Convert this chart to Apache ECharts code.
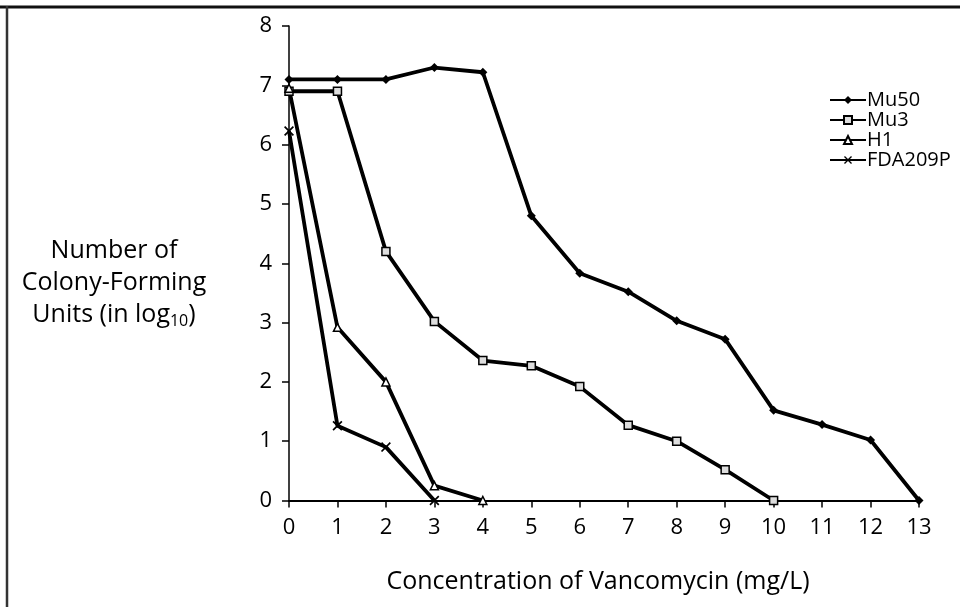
<!DOCTYPE html>
<html>
<head>
<meta charset="utf-8">
<script src="https://cdn.jsdelivr.net/npm/echarts@6/dist/echarts.min.js"></script>
<style>
html,body{margin:0;padding:0;background:#fff;}
#chart{width:960px;height:607px;}
</style>
</head>
<body>
<div id="chart"></div>
<script>
const xTicks = ['0','1','2','3','4','5','6','7','8','9','10','11','12','13'];
const mu50 = [[0,7.1],[1,7.1],[2,7.1],[3,7.3],[4,7.22],[5,4.8],[6,3.83],[7,3.52],[8,3.03],[9,2.72],[10,1.52],[11,1.28],[12,1.02],[13,0]];
const mu3 = [[0,6.9],[1,6.9],[2,4.2],[3,3.02],[4,2.36],[5,2.27],[6,1.92],[7,1.27],[8,1.0],[9,0.52],[10,0]];
const h1 = [[0,6.95],[1,2.92],[2,2.0],[3,0.25],[4,0]];
const fda209p = [[0,6.23],[1,1.26],[2,0.9],[3,0]];

const font = '"Open Sans", "Noto Sans", sans-serif';
const chart = echarts.init(document.getElementById('chart'));
const crossPath = 'path://M0,1.2L1.2,0L5,3.8L8.8,0L10,1.2L6.2,5L10,8.8L8.8,10L5,6.2L1.2,10L0,8.8L3.8,5Z';
function ser(name, data, symbol, size, fill) {
  return {
    name, type: 'line', data, symbol, symbolSize: size,
    lineStyle: {color: '#000', width: 3.8},
    itemStyle: {color: fill, borderColor: '#000', borderWidth: symbol === 'diamond' || symbol.startsWith('path') ? 0 : 1.5},
    emphasis: {disabled: true},
    animation: false,
    z: 3
  };
}
chart.setOption({
  backgroundColor: '#fff',
  animation: false,
  grid: {left: 289, right: 41, top: 26, bottom: 106.5, containLabel: false},
  xAxis: {
    type: 'value', min: 0, max: 13, interval: 1,
    axisLine: {show: true, lineStyle: {color: '#000', width: 2}},
    axisTick: {show: true, inside: false, length: 7, lineStyle: {color: '#000', width: 1.5}},
    axisLabel: {color: '#000', fontSize: 22, fontFamily: font, fontWeight: 500, margin: 16,
      formatter: v => xTicks[v]},
    splitLine: {show: false}
  },
  yAxis: {
    type: 'value', min: 0, max: 8, interval: 1,
    axisLine: {show: true, lineStyle: {color: '#000', width: 1.5}},
    axisTick: {show: true, inside: false, length: 7, lineStyle: {color: '#000', width: 1.5}},
    axisLabel: {color: '#000', fontSize: 22, fontFamily: font, fontWeight: 500, margin: 17},
    splitLine: {show: false}
  },
  legend: {
    orient: 'vertical', left: 824, top: 85, itemWidth: 36, itemHeight: 10, itemGap: 0,
    textStyle: {color: '#000', fontSize: 20, fontFamily: font, fontWeight: 500, lineHeight: 19.5, padding: [0,0,0,-4]},
    data: ['Mu50','Mu3','H1','FDA209P']
  },
  series: [
    ser('Mu50', mu50, 'diamond', 9, '#000'),
    ser('Mu3', mu3, 'rect', 8, '#ddd'),
    ser('H1', h1, 'triangle', 8, '#fff'),
    ser('FDA209P', fda209p, crossPath, 10, '#000')
  ],
  graphic: [
    {type: 'line', shape: {x1: 0, y1: 7, x2: 960, y2: 7}, style: {stroke: '#111', lineWidth: 3}},
    {type: 'line', shape: {x1: 7, y1: 6, x2: 7, y2: 607}, style: {stroke: '#333', lineWidth: 2.5}},
    {type: 'text', x: 598, y: 582, style: {
      text: 'Concentration of Vancomycin (mg/L)', font: '25px ' + font, fill: '#000',
      align: 'center', verticalAlign: 'middle'}},
    {type: 'text', x: 114, y: 235, style: {
      text: 'Number of\nColony-Forming\nUnits (in log{sub|10})',
      font: '25px ' + font, fill: '#000', align: 'center', lineHeight: 32,
      rich: {sub: {fontSize: 16, fontFamily: font, padding: [12,0,0,0], lineHeight: 32}}
    }}
  ]
});
</script>
</body>
</html>
